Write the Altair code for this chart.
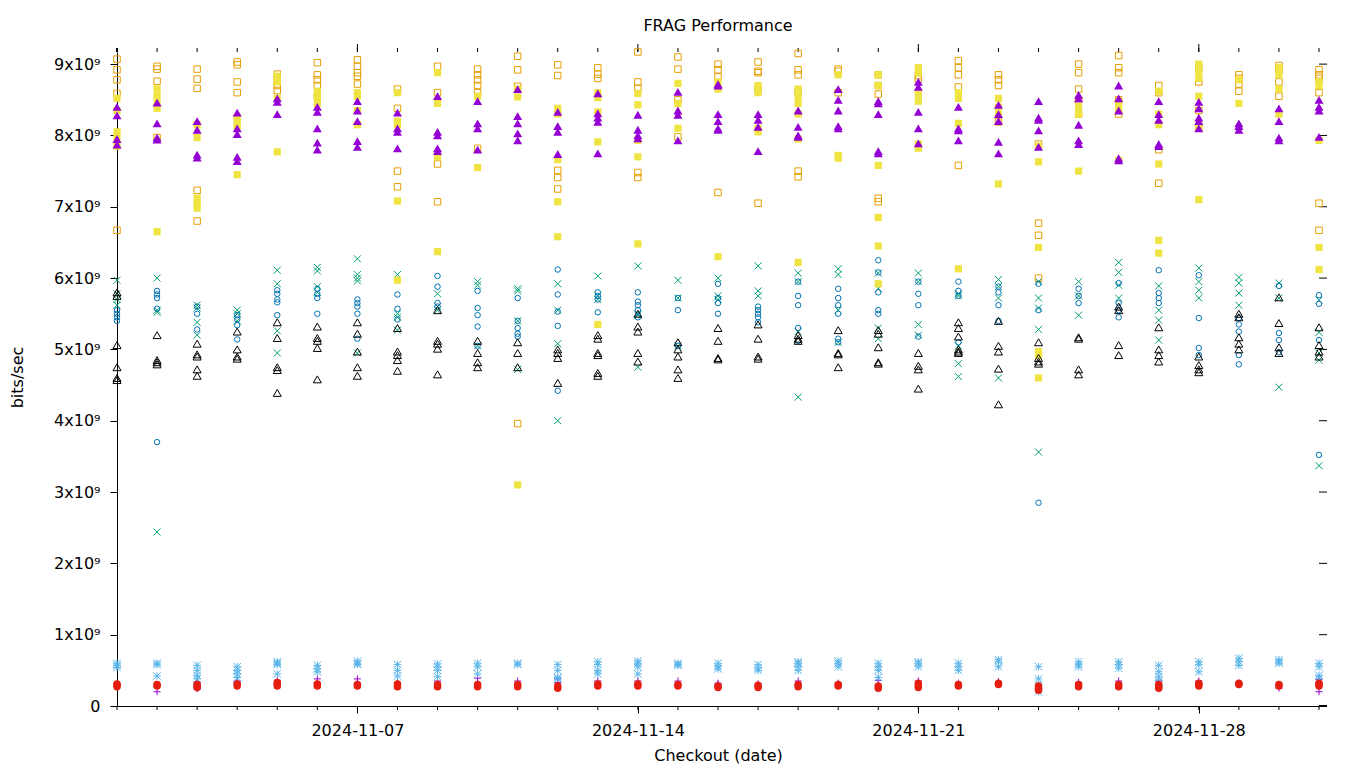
import altair as alt
import pandas as pd

# ---------------- data (values in units of 1e9 bits/sec) ----------------
DATES = [f"2024-11-{d:02d}" for d in range(1, 31)] + ["2024-12-01"]
MAJOR_TICKS = ["2024-11-07", "2024-11-14", "2024-11-21", "2024-11-28"]
Y_TICKS = [0, 1, 2, 3, 4, 5, 6, 7, 8, 9]
Y_MAX = 9.17

s1_plus = [[0.30,0.31,0.28],[0.30,0.29,0.20],[0.34,0.31,0.24],[0.33,0.35,0.31],[0.36,0.31],[0.38,0.32,0.31],[0.38,0.32,0.31],[0.33,0.31,0.29],[0.35,0.30],[0.39,0.31],[0.35,0.30],[0.38,0.33],[0.35,0.30],[0.35,0.31],[0.35,0.30],[0.32,0.30],[0.31,0.29],[0.35,0.30],[0.32,0.30],[0.36,0.29],[0.35,0.31],[0.32,0.30],[0.34,0.31],[0.30,0.24],[0.33,0.30],[0.35,0.30],[0.35,0.29],[0.35,0.31],[0.32,0.30],[0.25,0.30],[0.37,0.20]]

s2_cross = [[5.97,5.78,5.70,5.62],[6.00,5.55,5.52,2.44],[5.62,5.58,5.38,5.20],[5.55,5.50,5.40],[6.11,5.92,5.26,4.95],[6.15,6.10,5.88,5.80],[6.27,6.05,6.00,5.96,4.95],[6.05,5.50,5.45,5.27],[5.78,5.60,5.55],[5.95,5.90,5.05],[5.85,5.82,5.40,4.72],[5.92,5.55,5.08,4.00],[6.03,5.75,5.70],[6.17,5.50,5.48,4.75],[5.97,5.72,5.05],[6.00,5.75,5.70],[6.17,5.82,5.75],[6.07,5.95,5.25,4.33],[6.13,6.05,5.55,5.10],[6.07,5.85,5.30,5.15],[6.07,5.95,5.35,5.20],[5.78,5.75,5.05,4.80,4.62],[5.98,5.88,5.72,4.60],[5.95,5.72,5.58,5.28,3.56],[5.95,5.75,5.48],[6.22,6.08,5.90,5.72],[5.89,5.55,5.41,5.13],[6.14,5.95,5.83,5.72],[6.01,5.93,5.79,5.62],[5.93,5.72,4.47],[5.69,5.24,4.95,4.85,3.37]]

s3_star = [[0.60,0.57,0.54],[0.60,0.58,0.42],[0.57,0.50,0.43,0.38],[0.55,0.50,0.45,0.40],[0.62,0.60,0.58,0.45],[0.57,0.52,0.48],[0.63,0.60,0.58],[0.58,0.50,0.42],[0.59,0.55,0.50,0.41],[0.60,0.55,0.45],[0.60,0.58],[0.58,0.50,0.40,0.38],[0.62,0.58,0.50,0.45],[0.63,0.60,0.55,0.45],[0.60,0.58,0.57],[0.60,0.55,0.52],[0.58,0.53,0.50],[0.62,0.60,0.55,0.50],[0.63,0.60,0.55],[0.60,0.55,0.50,0.40],[0.62,0.60,0.55],[0.60,0.55,0.50],[0.65,0.62,0.55],[0.55,0.38,0.30,0.20],[0.62,0.58,0.55],[0.62,0.58,0.53],[0.57,0.48,0.41,0.35],[0.62,0.58,0.48],[0.67,0.62,0.57],[0.65,0.62,0.60],[0.60,0.55,0.43,0.38]]

s4_open_square = [[9.07,8.92,8.78,8.59,6.67],[8.97,8.93,8.76,7.97],[8.93,8.79,8.66,7.23,6.80],[9.03,8.99,8.75,8.60],[8.86,8.78,8.70,8.63],[9.02,8.85,8.78,8.70,8.55],[9.06,8.97,8.88,8.83,8.72],[8.65,8.38,7.50,7.28],[8.97,8.60,7.60,7.07],[8.93,8.85,8.78,8.70,8.60,7.82],[9.11,8.92,8.69,3.96],[8.99,8.84,7.51,7.41,7.25],[8.95,8.86,8.80],[9.17,8.75,8.66,7.48,7.41],[9.10,8.93,8.50,7.98],[9.00,8.92,8.82,7.20],[9.03,8.90,8.88,8.65,7.05],[9.15,8.92,8.85,8.60,7.50,7.42],[8.93,8.90,8.60],[8.85,8.70,8.58,7.12,7.07],[8.84,8.79],[9.05,8.95,8.85,8.68,7.58],[8.85,8.78,8.70,8.19],[7.88,6.77,6.60,6.00],[9.00,8.88,8.65,8.50,8.30],[9.12,8.95,8.88,8.50,8.30],[8.70,8.60,7.80,7.33],[8.95,8.75,8.35,8.12],[8.85,8.80,8.72,8.62],[8.98,8.92,8.75,8.55],[8.92,8.85,8.80,8.60,7.05,6.67]]

s5_filled_square = [[8.52,8.35,8.05,7.97,7.85],[8.65,8.55,8.45,8.38,6.65],[8.15,7.97,7.12,7.05,6.98],[8.25,8.20,8.12,7.45],[8.83,8.75,8.52,7.77],[8.62,8.55,8.45],[8.60,8.55,8.35,8.15],[8.60,8.20,8.15,7.08,5.97],[8.88,8.45,7.70,6.37],[8.55,7.55],[8.65,8.54,3.10],[8.38,8.30,7.66,7.07,6.58],[8.60,8.53,8.33,7.91,5.35],[8.59,8.43,7.93,7.70,6.48],[8.73,8.45,8.10],[8.75,8.65,6.30],[8.70,8.60,8.10,8.05],[8.65,8.55,8.45,8.30,7.95,6.22],[8.85,7.72,7.68],[8.85,8.70,7.58,6.85,6.45,5.92],[8.95,8.88,8.58,8.48,7.88,7.82],[8.60,8.52,8.17,6.13],[8.52,8.40,8.30,7.32],[7.85,7.63,6.43,4.97,4.92,4.60],[8.40,8.30,7.50],[8.45,8.35,7.65],[8.62,8.30,8.15,7.60,6.53,6.35],[9.00,8.90,8.80,8.55,8.10,7.10],[8.78,8.45],[8.95,8.85,8.65,8.30],[8.75,8.70,7.93,6.43,6.12]]

s6_open_circle = [[5.55,5.50,5.45,5.40],[5.82,5.77,5.72,5.57,3.70],[5.60,5.50,5.28],[5.48,5.42,5.34,5.14],[5.83,5.78,5.70,5.66,5.48],[5.85,5.78,5.72,5.50],[5.70,5.65,5.60,5.50,5.15],[5.77,5.57,5.42],[6.03,5.88,5.65,5.60],[5.82,5.58,5.48,5.32,5.05],[5.72,5.40,5.30,5.22,5.18],[6.12,5.77,5.53,5.33,4.42],[5.80,5.75,5.70,5.52],[5.80,5.67,5.62,5.55,5.45],[5.72,5.55,5.05],[5.92,5.72,5.65,5.50],[5.60,5.55,5.50,5.45,5.38],[5.95,5.75,5.62,5.30,5.12],[5.85,5.72,5.62,5.50,5.15,5.10],[6.25,6.08,5.80,5.55,5.50],[5.95,5.78,5.62,5.18],[5.95,5.82,5.75,5.10],[5.88,5.80,5.62,5.40],[5.92,5.55,2.85],[5.85,5.75,5.65],[5.93,5.65,5.55,5.45],[6.11,5.79,5.72,5.65],[6.04,5.44,5.02,4.92],[5.44,5.35,5.25,4.92,4.79],[5.89,5.23,5.13,4.96],[5.76,5.64,5.13,3.52]]

s7_filled_circle = [[0.31,0.29,0.27],[0.30,0.28],[0.30,0.27,0.26],[0.31,0.28],[0.33,0.30,0.28],[0.31,0.28],[0.30,0.28],[0.31,0.27],[0.30,0.27],[0.30,0.27],[0.30,0.27],[0.28,0.25],[0.31,0.28],[0.31,0.28],[0.30,0.28],[0.28,0.26],[0.29,0.26],[0.30,0.27],[0.30,0.28],[0.28,0.25],[0.32,0.28,0.26],[0.30,0.28],[0.32,0.30],[0.28,0.25,0.22],[0.30,0.27],[0.30,0.27],[0.30,0.27,0.25],[0.32,0.30,0.28],[0.32,0.30],[0.30,0.28],[0.32,0.30,0.28]]

s8_open_triangle = [[5.80,5.75,5.06,4.75,4.60,4.57],[5.20,4.85,4.82,4.79],[5.08,4.93,4.90,4.72,4.63],[5.25,5.00,4.90,4.87],[5.38,5.16,4.75,4.71,4.39],[5.32,5.16,5.12,5.02,4.58],[5.38,5.22,4.97,4.75,4.63],[5.30,4.97,4.92,4.85,4.70],[5.55,5.12,5.08,5.01,4.65],[5.12,4.95,4.82,4.75],[5.10,4.95,4.75],[5.00,4.95,4.88,4.53],[5.20,5.15,4.95,4.92,4.67,4.63],[5.50,5.32,5.25,4.95,4.83],[5.10,5.00,4.90,4.72,4.60],[5.30,5.12,4.88,4.86],[5.35,5.15,4.90,4.87],[5.20,5.15,5.12],[5.27,4.95,4.93,4.75],[5.27,5.22,5.03,4.82,4.80],[4.95,4.77,4.72,4.45],[5.38,5.30,5.18,5.00,4.97,4.95],[5.40,5.05,4.97,4.73,4.23],[5.10,4.88,4.83,4.80],[5.17,5.15,4.72,4.65],[5.60,5.55,5.06,4.92],[5.31,5.00,4.92,4.83],[4.90,4.78,4.72,4.68],[5.50,5.45,5.17,5.08,5.00],[5.73,5.37,5.03,4.95],[5.31,5.06,4.97,4.90]]

s9_filled_triangle = [[8.40,8.28,7.95,7.87],[8.46,8.17,7.97,7.94],[8.20,8.08,7.73,7.69],[8.32,8.10,8.02,7.70,7.64],[8.52,8.47,8.30],[8.40,8.33,8.10,7.90,7.80],[8.48,8.35,8.20,7.92,7.84],[8.32,8.10,8.05,7.82],[8.55,8.05,8.00,7.82,7.78],[8.48,8.17,8.10,7.80],[8.65,8.27,8.17,8.03,7.93],[8.33,8.13,8.05,7.74],[8.59,8.31,8.25,8.19,7.75],[8.29,8.08,8.00,7.96],[8.61,8.35,8.29,7.93],[8.72,8.70,8.30,8.20,8.10,8.08],[8.30,8.22,8.12,7.78],[8.35,8.12,8.00,7.98],[8.65,8.50,8.35,8.13,8.10],[8.48,8.45,8.30,7.78,7.75],[8.75,8.68,8.33,8.10,7.89],[8.40,8.10,8.07,7.93],[8.43,8.30,8.20,7.91,7.75],[8.48,8.25,8.22,8.07,7.84],[8.57,8.52,8.15,7.93,7.88],[8.70,8.52,8.35,7.68,7.65],[8.48,8.30,8.22,7.88,7.85],[8.47,8.38,8.25,8.20,8.10],[8.17,8.13,8.08],[8.38,8.20,7.97,7.93],[8.50,8.40,8.35,7.98]]

SERIES = [s1_plus, s2_cross, s3_star, s4_open_square, s5_filled_square,
          s6_open_circle, s7_filled_circle, s8_open_triangle, s9_filled_triangle]

# ---------------- styles (gnuplot default point types / colours) ----------------
PLUS = "M-1,0L1,0M0,-1L0,1"
XSHAPE = "M-1,-1L1,1M-1,1L1,-1"
STAR = "M-1,0L1,0M0,-1L0,1M-1,-1L1,1M-1,1L1,-1"
STYLES = [
    dict(shape=PLUS, filled=False, color="#9400d3", size=49),
    dict(shape=XSHAPE, filled=False, color="#009e73", size=49),
    dict(shape=STAR, filled=False, color="#56b4e9", size=56),
    dict(shape="square", filled=False, color="#e69f00", size=42),
    dict(shape="square", filled=True, color="#f0e442", size=52),
    dict(shape="circle", filled=False, color="#0072b2", size=30),
    dict(shape="circle", filled=True, color="#e51e10", size=56),
    dict(shape="triangle-up", filled=False, color="#000000", size=64),
    dict(shape="triangle-up", filled=True, color="#9400d3", size=81),
]

rows = []
for si, series in enumerate(SERIES):
    for di, vals in enumerate(series):
        for v in vals:
            rows.append({"date": DATES[di], "s": si, "v": v * 1e9})
df = pd.DataFrame(rows)

def ms(s):
    return int(pd.Timestamp(s, tz="UTC").value // 10**6)

FONT = "DejaVu Sans"
W, H = 1202, 654

xscale = alt.Scale(type="utc", domain=[ms(DATES[0]), ms(DATES[-1])], nice=False)
yscale = alt.Scale(domain=[0, Y_MAX * 1e9], nice=False, zero=False)

X = alt.X("date:T", scale=xscale, axis=alt.Axis(
    values=[ms(d) for d in MAJOR_TICKS],
    labelExpr="utcFormat(datum.value, '%Y-%m-%d')",
    tickSize=7, labelPadding=9, grid=False,
    title="Checkout (date)", titleY=54, titleBaseline="alphabetic",
))
Y = alt.Y("v:Q", scale=yscale, axis=alt.Axis(
    values=[t * 1e9 for t in Y_TICKS],
    labelExpr="datum.value == 0 ? '0' : format(datum.value / 1e9, 'd') + 'x10\u2079'",
    tickSize=7, labelPadding=10, grid=False,
    title="bits/sec", titleX=-95, titleY=325, titleBaseline="alphabetic",
))

layers = []
for si, st in enumerate(STYLES):
    layers.append(
        alt.Chart(df).transform_filter(alt.datum.s == si)
        .mark_point(shape=st["shape"], filled=st["filled"], color=st["color"],
                    size=st["size"], strokeWidth=1, opacity=1)
        .encode(x=X, y=Y)
    )

days_df = pd.DataFrame({"date": DATES})
major_df = pd.DataFrame({"date": MAJOR_TICKS})
ytick_df = pd.DataFrame({"v": [t * 1e9 for t in Y_TICKS]})

bottom_minor = alt.Chart(days_df).mark_rule(color="black", strokeWidth=1).encode(
    x=X, y=alt.value(H), y2=alt.value(H + 4))
top_minor = alt.Chart(days_df).mark_rule(color="black", strokeWidth=1).encode(
    x=X, y=alt.value(-4), y2=alt.value(0))
top_major = alt.Chart(major_df).mark_rule(color="black", strokeWidth=1).encode(
    x=X, y=alt.value(-8), y2=alt.value(0))
right_ticks = alt.Chart(ytick_df).mark_rule(color="black", strokeWidth=1).encode(
    y=Y, x=alt.value(W), x2=alt.value(W + 8))
# small extensions of the axis lines seen in the reference
ext_bottom = alt.Chart(days_df).mark_rule(color="black", strokeWidth=1).encode(
    x=alt.value(W), x2=alt.value(W + 8), y=alt.value(H))
ext_left = alt.Chart(days_df).mark_rule(color="black", strokeWidth=1).encode(
    x=alt.value(0), y=alt.value(-4), y2=alt.value(0))

chart = alt.layer(bottom_minor, top_minor, top_major, right_ticks, ext_bottom, ext_left,
                  *layers).properties(
    width=W, height=H,
    autosize=alt.AutoSizeParams(type="none"),
    padding={"left": 109, "top": 44, "right": 30, "bottom": 62},
    title=alt.TitleParams("FRAG Performance", font=FONT, fontSize=16, fontWeight="normal",
                          color="black", anchor="middle", frame="group",
                          baseline="alphabetic", offset=13, dy=16),
).configure(background="white").configure_view(stroke=None).configure_axis(
    labelFont=FONT, labelFontSize=16, labelColor="black",
    titleFont=FONT, titleFontSize=16, titleFontWeight="normal", titleColor="black",
    domainColor="black", domainWidth=1, tickColor="black", tickWidth=1,
    labelFlush=False, labelOverlap=False,
)

chart.save("out.html", embed_options={"renderer": "svg", "actions": False})
